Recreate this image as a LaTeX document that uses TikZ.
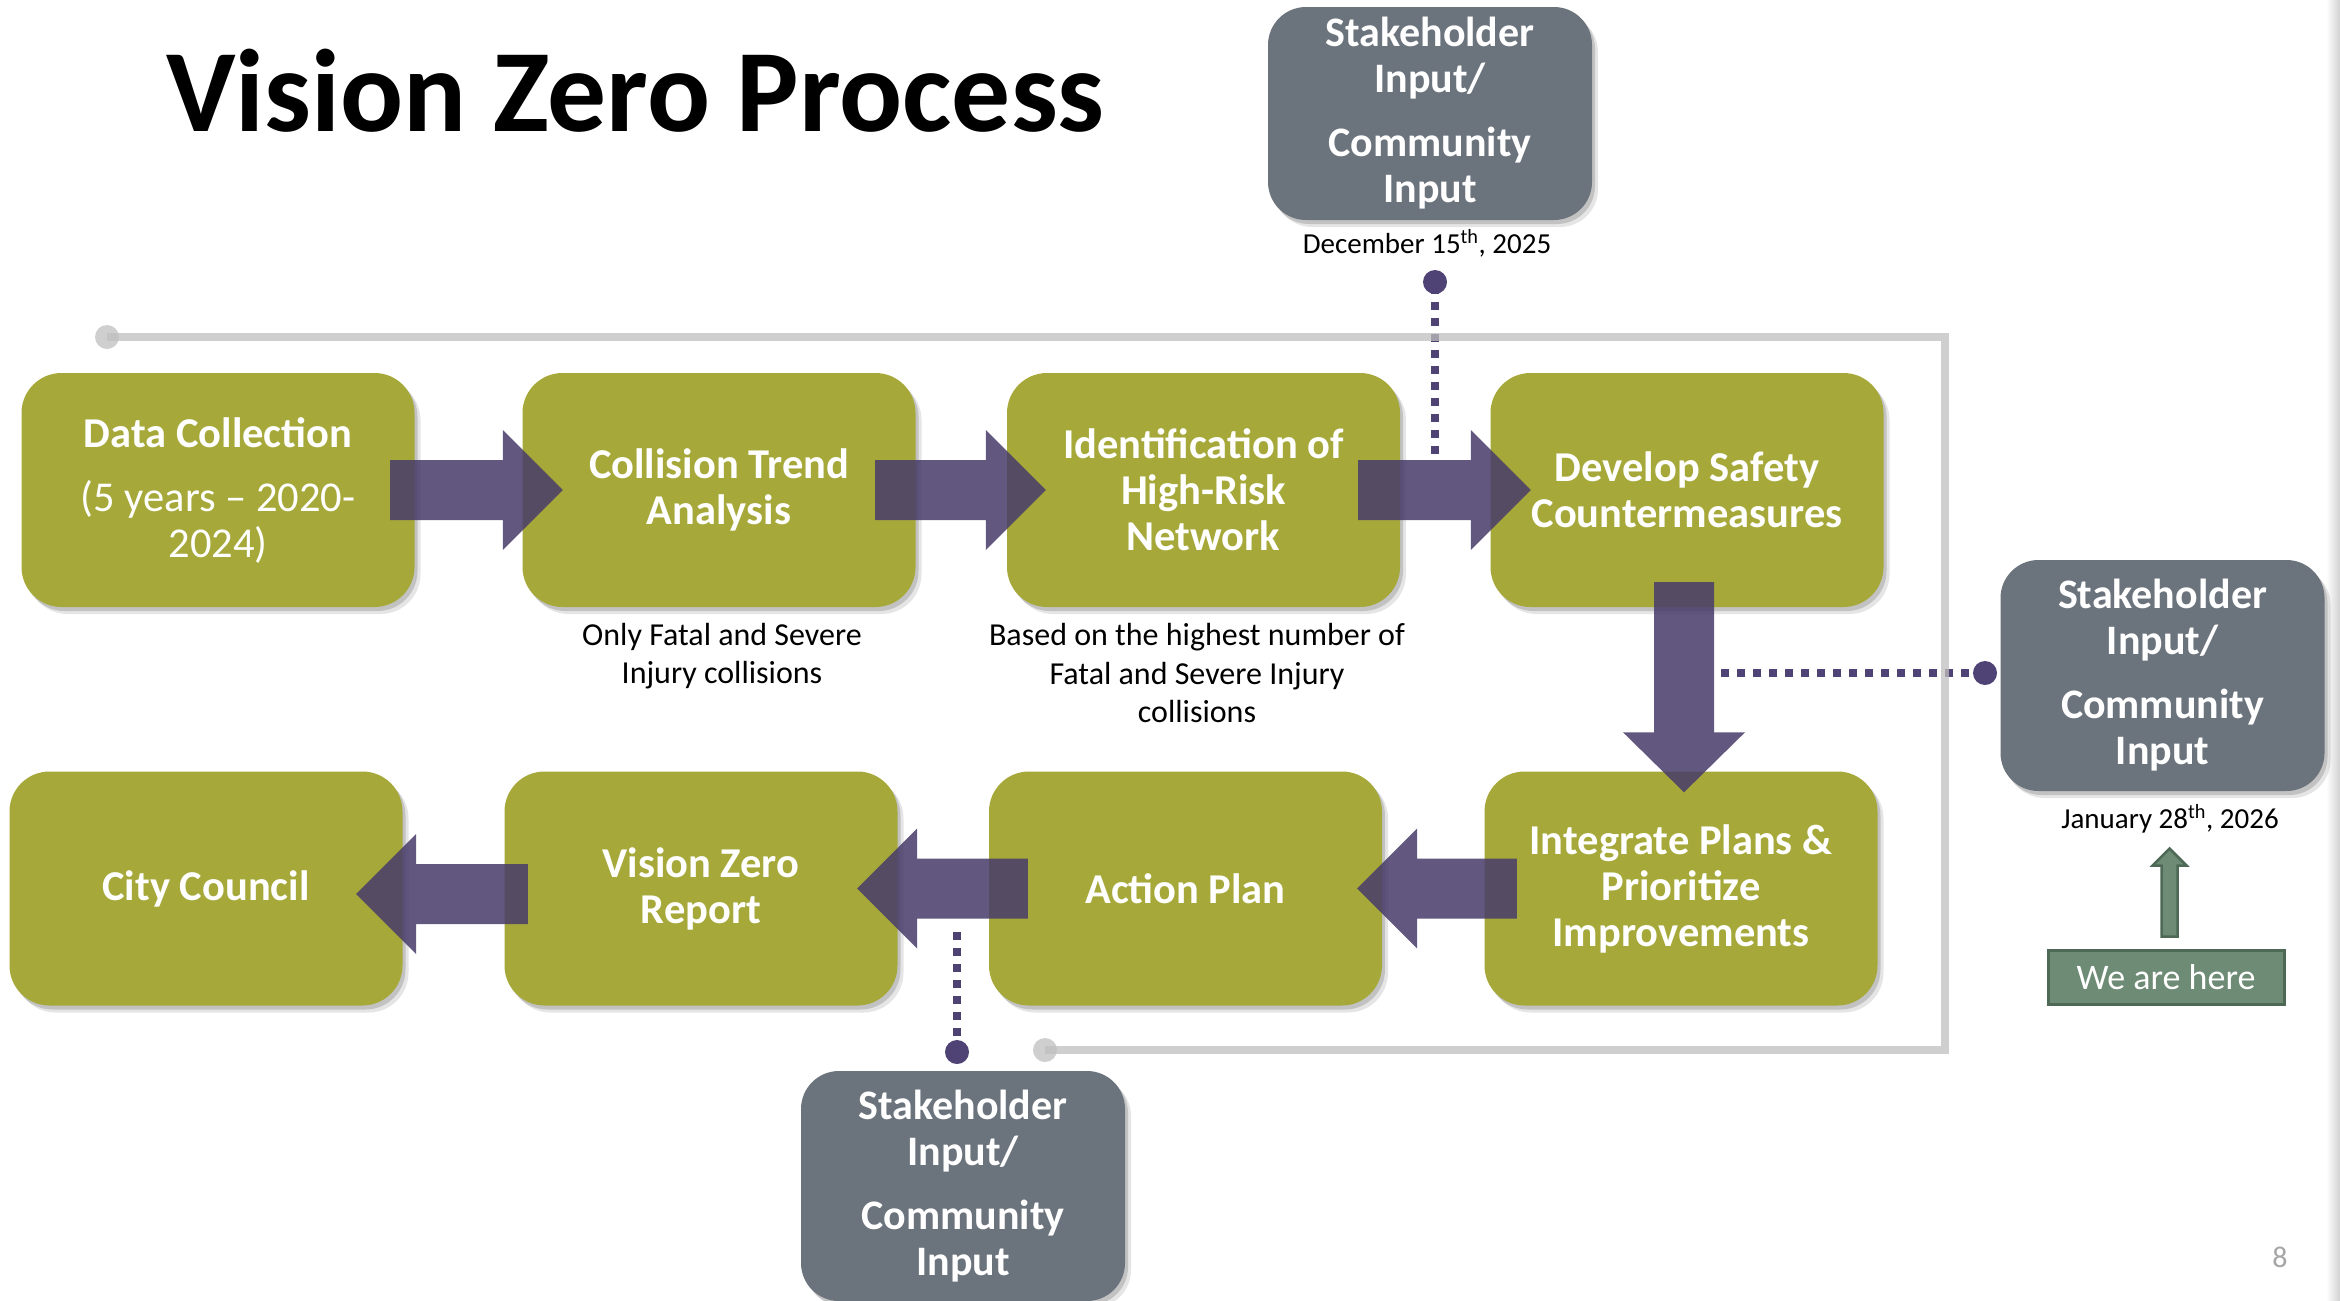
\documentclass[tikz,border=0pt]{standalone}
\usepackage{fontspec}
\setmainfont{Carlito}
\usetikzlibrary{calc,shadows}
\definecolor{boxgreen}{HTML}{A6A93A}
\definecolor{boxgray}{HTML}{6B737C}
\definecolor{arrowpurple}{HTML}{483C6A}
\definecolor{dotpurple}{HTML}{4F4274}
\definecolor{linegray}{HTML}{C0C0C0}
\definecolor{herefill}{HTML}{6E8B76}
\definecolor{hereline}{HTML}{4E6955}
\definecolor{pagegray}{HTML}{A6A6A6}
\tikzset{
  boxshadow/.style={drop shadow={shadow xshift=3pt,shadow yshift=-4pt,opacity=.15,fill=black},
                    drop shadow={shadow xshift=6pt,shadow yshift=-7pt,opacity=.10,fill=black}},
  stepbox/.style={rectangle, rounded corners=40pt, fill=boxgreen, minimum width=393pt,
                  minimum height=234pt, inner sep=0pt, text=white, align=center,
                  font=\bfseries\fontsize{42.5}{46}\selectfont, boxshadow},
  inputbox/.style={rectangle, rounded corners=38pt, fill=boxgray, minimum width=324pt,
                   inner sep=0pt, text=white, align=center,
                   font=\bfseries\fontsize{42}{46}\selectfont, boxshadow},
  notelabel/.style={inner sep=0pt, align=center, font=\fontsize{32}{38.5}\selectfont, text=black},
  datelabel/.style={inner sep=0pt, align=center, font=\fontsize{29}{35}\selectfont, text=black},
  parrow/.style={fill=arrowpurple, fill opacity=.86},
  pdash/.style={draw=dotpurple, line width=8pt, dash pattern=on 8pt off 8pt},
  pdot/.style={circle, fill=dotpurple, minimum size=24pt, inner sep=0pt},
  gline/.style={draw=linegray, line width=8pt, opacity=.75},
  gdot/.style={circle, fill=linegray, fill opacity=.75, minimum size=24pt, inner sep=0pt},
  herebox/.style={draw=hereline, line width=3pt, fill=herefill, minimum width=236pt,
                  minimum height=54pt, inner sep=0pt, text=white, font=\fontsize{36}{40}\selectfont},
}
\newcommand{\ArrowRight}[4]{\fill[parrow] let \p1=($(#1.east)+(#2)$), \p2=($(#3.west)+(#4)$) in
  (\x1,\y2+30pt) -- (\x2-60pt,\y2+30pt) -- (\x2-60pt,\y2+60pt) -- (\x2,\y2) --
  (\x2-60pt,\y2-60pt) -- (\x2-60pt,\y2-30pt) -- (\x1,\y2-30pt) -- cycle;}
\newcommand{\ArrowLeft}[4]{\fill[parrow] let \p1=($(#1.west)+(#2)$), \p2=($(#3.east)+(#4)$) in
  (\x1,\y2+30pt) -- (\x2+60pt,\y2+30pt) -- (\x2+60pt,\y2+60pt) -- (\x2,\y2) --
  (\x2+60pt,\y2-60pt) -- (\x2+60pt,\y2-30pt) -- (\x1,\y2-30pt) -- cycle;}
\begin{document}
\begin{tikzpicture}[x=1pt,y=-1pt]
\useasboundingbox (0,0) rectangle (2340,1301);
\fill[white] (0,0) rectangle (2340,1301);
\shade[left color=white,right color=black!18] (2326,0) rectangle (2340,1301);

% title
\node[anchor=base west, inner sep=0pt, font=\bfseries\fontsize{117.5}{130}\selectfont] (title) at (166,131) {Vision Zero Process};

% dotted input connectors
\node[pdot] (dtop) at (1435,282) {};
\coordinate (dtopend) at (1435,455);
\draw[pdash, dash phase=12pt] (dtop.center) -- (dtopend);
\node[pdot] (dright) at (1985,673) {};
\coordinate (drightend) at (1721,673);
\draw[pdash] (dright.center) -- (drightend);
\node[pdot] (dbot) at (957,1052) {};
\coordinate (dbotend) at (957,925);
\draw[pdash] (dbot.center) -- (dbotend);

% gray process line
\node[gdot] (gdA) at (107,337) {};
\node[gdot] (gdB) at (1045,1050) {};
\coordinate (gC) at (1945,700);
\draw[gline] (gdA.center) -- (gdA.center -| gC) |- (gdB.center);

% input boxes and dates
\node[inputbox, minimum height=213pt] (gtop) at (1430,113.5) {Stakeholder\\Input/\\[18pt]Community\\Input};
\node[datelabel, anchor=base] (dec) at (1427,253) {December 15\textsuperscript{th}, 2025};
\node[inputbox, minimum height=231pt] (gright) at (2162.5,675.5) {Stakeholder\\Input/\\[18pt]Community\\Input};
\node[datelabel, anchor=base] (jan) at (2170,828) {January 28\textsuperscript{th}, 2026};
\node[inputbox, minimum height=230pt] (gbot) at (963,1186) {Stakeholder\\Input/\\[18pt]Community\\Input};

% process steps
\node[stepbox] (b1) at (218,490) {Data Collection\\[18pt]{\mdseries (5 years – 2020-}\\{\mdseries 2024)}};
\node[stepbox] (b2) at (719,490) {Collision Trend\\Analysis};
\node[stepbox] (b3) at (1203.5,490) {Identification of\\High-Risk\\Network};
\node[stepbox] (b4) at (1687,490) {Develop Safety\\Countermeasures};
\node[stepbox] (b5) at (206,888.5) {City Council};
\node[stepbox] (b6) at (701,888.5) {Vision Zero\\Report};
\node[stepbox] (b7) at (1185.5,888.5) {Action Plan};
\node[stepbox] (b8) at (1681,888.5) {Integrate Plans \&\\Prioritize\\Improvements};

% notes
\node[notelabel] (n2) at (722,656) {Only Fatal and Severe\\Injury collisions};
\node[notelabel] (n3) at (1197,673) {Based on the highest number of\\Fatal and Severe Injury\\collisions};

% block arrows
\ArrowRight{b1}{-24.5,0}{b2}{40.5,0}
\ArrowRight{b2}{-40.5,0}{b3}{39,0}
\ArrowRight{b3}{-42,0}{b4}{40.5,0}
\fill[parrow] let \p1=($(b4.south)+(-3,-25)$), \p2=($(b8.north)+(3,21)$) in
  (\x2-30pt,\y1) -- (\x2-30pt,\y2+60pt) -- (\x2-61pt,\y2+60pt) -- (\x2,\y2) --
  (\x2+61pt,\y2+60pt) -- (\x2+30pt,\y2+60pt) -- (\x2+30pt,\y1) -- cycle;
\ArrowLeft{b8}{32.5,0}{b7}{-25,0}
\ArrowLeft{b7}{39,0}{b6}{-40.5,0}
\ArrowLeft{b6}{23.5,0}{b5}{-46.5,5.5}

% we are here
\node[herebox] (here) at (2166,977) {We are here};
\draw[draw=hereline, fill=herefill, line width=2.5pt] let \p1=($(here.north)+(3.5,-12)$), \p2=($(here.north)+(3.5,-100)$) in
  (\x2-8pt,\y1) -- (\x2-8pt,\y2-17pt) -- (\x2-17pt,\y2-17pt) -- (\x2,\y2) --
  (\x2+17pt,\y2-17pt) -- (\x2+8pt,\y2-17pt) -- (\x2+8pt,\y1) -- cycle;

% page number
\node[font=\fontsize{30}{34}\selectfont, text=pagegray, inner sep=0pt] (pg) at (2280,1257) {8};
\end{tikzpicture}
\end{document}
